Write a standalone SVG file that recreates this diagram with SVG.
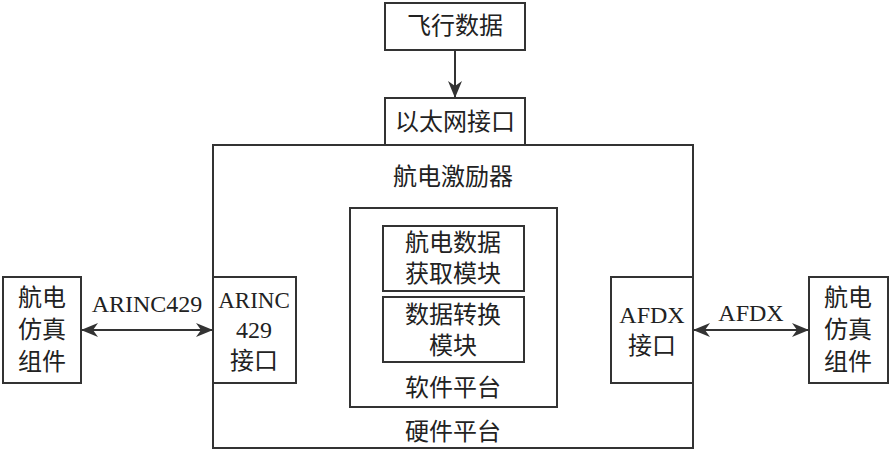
<svg xmlns="http://www.w3.org/2000/svg" width="891" height="452" viewBox="0 0 891 452">
<style>
.box{fill:#fff;stroke:#333;stroke-width:2}
.cn{font-family:"Liberation Serif","Noto Sans CJK SC",serif;font-size:24px;fill:#222;text-anchor:middle;dominant-baseline:central}
.lat{font-family:"Liberation Serif",serif;font-size:24px;fill:#222;text-anchor:middle;dominant-baseline:central}
.line{stroke:#333;stroke-width:2;fill:none}
</style>
<defs>
<marker id="ah" viewBox="0 0 17 14" refX="16" refY="7" markerWidth="17" markerHeight="14" markerUnits="userSpaceOnUse" orient="auto-start-reverse">
<path d="M0,0 L17,7 L0,14 L5,7 z" fill="#333"/>
</marker>
</defs>
<rect width="891" height="452" fill="#fff"/>
<g id="hardware">
<rect class="box" x="213" y="145" width="480" height="303"/>
<text class="cn" x="453" y="177">航电激励器</text>
<text class="cn" x="453" y="432">硬件平台</text>
</g>
<g id="flightdata">
<rect class="box" x="385" y="3" width="140" height="47"/>
<text class="cn" x="455" y="26">飞行数据</text>
</g>
<g id="ethernet">
<rect class="box" x="385" y="98" width="140" height="47"/>
<text class="cn" x="455" y="122">以太网接口</text>
</g>
<g id="software">
<rect class="box" x="350" y="208" width="207" height="199"/>
<text class="cn" x="453" y="388">软件平台</text>
</g>
<g id="acquire">
<rect class="box" x="383" y="226" width="141" height="65"/>
<text class="cn" x="453" y="243">航电数据</text>
<text class="cn" x="453" y="274">获取模块</text>
</g>
<g id="convert">
<rect class="box" x="383" y="297" width="141" height="65"/>
<text class="cn" x="453" y="315">数据转换</text>
<text class="cn" x="453" y="346">模块</text>
</g>
<g id="arinc">
<rect class="box" x="213" y="277" width="83" height="106"/>
<text class="lat" x="254" y="300" style="font-size:23px">ARINC</text>
<text class="lat" x="254" y="330">429</text>
<text class="cn" x="254" y="361">接口</text>
</g>
<g id="afdx">
<rect class="box" x="611" y="277" width="82" height="106"/>
<text class="lat" x="652" y="315">AFDX</text>
<text class="cn" x="652" y="346">接口</text>
</g>
<g id="leftcomp">
<rect class="box" x="3" y="277" width="78" height="106"/>
<text class="cn" x="42" y="298">航电</text>
<text class="cn" x="42" y="330">仿真</text>
<text class="cn" x="42" y="362">组件</text>
</g>
<g id="rightcomp">
<rect class="box" x="809" y="277" width="79" height="106"/>
<text class="cn" x="848" y="298">航电</text>
<text class="cn" x="848" y="330">仿真</text>
<text class="cn" x="848" y="362">组件</text>
</g>
<g id="connectors">
<line class="line" x1="455" y1="50" x2="455" y2="97" marker-end="url(#ah)"/>
<line class="line" x1="82" y1="330" x2="212" y2="330" marker-start="url(#ah)" marker-end="url(#ah)"/>
<text class="lat" x="147" y="304">ARINC429</text>
<line class="line" x1="694" y1="330" x2="808" y2="330" marker-start="url(#ah)" marker-end="url(#ah)"/>
<text class="lat" x="751" y="313">AFDX</text>
</g>
</svg>
